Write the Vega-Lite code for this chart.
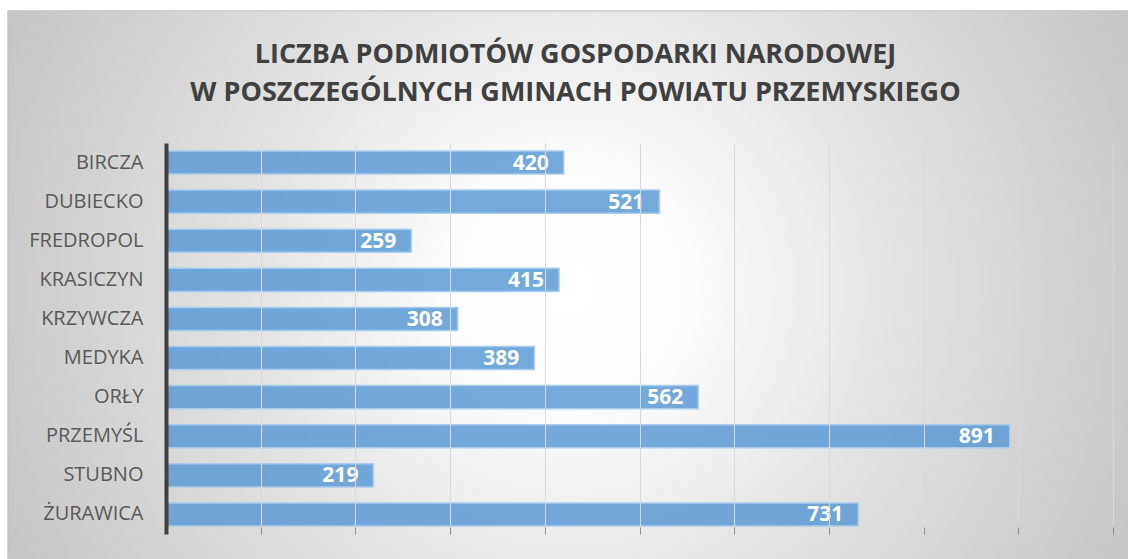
{
  "$schema": "https://vega.github.io/schema/vega-lite/v6.json",
  "width": 947,
  "height": 391,
  "autosize": {"type": "none"},
  "padding": {"left": 166, "top": 143, "right": 15, "bottom": 25},
  "background": "#ffffff",
  "config": {"view": {"stroke": null}, "font": "Open Sans"},
  "title": {
    "text": ["LICZBA PODMIOTÓW GOSPODARKI NARODOWEJ", "W POSZCZEGÓLNYCH GMINACH POWIATU PRZEMYSKIEGO"],
    "font": "Open Sans",
    "fontSize": 27,
    "fontWeight": "bold",
    "color": "#404040",
    "lineHeight": 38,
    "anchor": "middle",
    "frame": "group",
    "dx": -64,
    "offset": -97
  },
  "layer": [
    {
      "data": {"values": [{}]},
      "mark": {
        "type": "rect",
        "color": {
          "gradient": "radial",
          "x1": 0.5, "y1": 0.4965, "r1": 0,
          "x2": 0.5, "y2": 0.4965, "r2": 0.552,
          "stops": [
            {"offset": 0, "color": "#ffffff"},
            {"offset": 0.2, "color": "#fcfcfc"},
            {"offset": 0.5, "color": "#e4e4e4"},
            {"offset": 1, "color": "#c6c6c6"}
          ]
        },
        "stroke": "#bfbfbf",
        "strokeWidth": 1
      },
      "encoding": {
        "x": {
          "datum": -167,
          "type": "quantitative",
          "scale": {"domain": [0, 1000]},
          "axis": {
            "title": null,
            "labels": false,
            "domain": false,
            "ticks": true,
            "tickSize": -7,
            "tickColor": "#8c8c8c",
            "tickWidth": 1,
            "grid": true,
            "gridColor": "#d9d9d9",
            "gridWidth": 1,
            "values": [0, 100, 200, 300, 400, 500, 600, 700, 800, 900, 1000],
            "zindex": 1
          }
        },
        "x2": {"datum": 1020},
        "y": {"datum": -0.1, "type": "quantitative", "scale": {"domain": [0, 1]}, "axis": null},
        "y2": {"datum": 1.338}
      }
    },
    {
      "data": {
        "values": [
          {"gmina": "BIRCZA", "liczba": 420},
          {"gmina": "DUBIECKO", "liczba": 521},
          {"gmina": "FREDROPOL", "liczba": 259},
          {"gmina": "KRASICZYN", "liczba": 415},
          {"gmina": "KRZYWCZA", "liczba": 308},
          {"gmina": "MEDYKA", "liczba": 389},
          {"gmina": "ORŁY", "liczba": 562},
          {"gmina": "PRZEMYŚL", "liczba": 891},
          {"gmina": "STUBNO", "liczba": 219},
          {"gmina": "ŻURAWICA", "liczba": 731}
        ]
      },
      "encoding": {
        "y": {
          "field": "gmina",
          "type": "nominal",
          "sort": null,
          "scale": {"paddingInner": 0.41, "paddingOuter": 0.205},
          "axis": {
            "title": null,
            "domain": true,
            "domainColor": "#404040",
            "domainWidth": 4,
            "ticks": false,
            "labelPadding": 23,
            "labelFont": "Open Sans",
            "labelFontSize": 20,
            "labelColor": "#595959",
            "grid": false,
            "zindex": 1
          }
        },
        "x": {
          "field": "liczba",
          "type": "quantitative",
          "scale": {"domain": [0, 1000]},
          "axis": {
            "title": null,
            "labels": false,
            "domain": false,
            "ticks": true,
            "tickSize": -7,
            "tickColor": "#8c8c8c",
            "tickWidth": 1,
            "grid": true,
            "gridColor": "#d9d9d9",
            "gridWidth": 1,
            "values": [0, 100, 200, 300, 400, 500, 600, 700, 800, 900, 1000],
            "zindex": 1
          }
        }
      },
      "layer": [
        {
          "mark": {
            "type": "bar",
            "fill": "#5b9bd5",
            "fillOpacity": 0.85,
            "stroke": "#a9cbed",
            "strokeWidth": 1.5
          }
        },
        {
          "mark": {
            "type": "text",
            "align": "right",
            "baseline": "middle",
            "dx": -15,
            "dy": 1,
            "color": "#ffffff",
            "font": "Open Sans",
            "fontSize": 21,
            "fontWeight": "bold"
          },
          "encoding": {"text": {"field": "liczba", "type": "quantitative"}}
        }
      ]
    }
  ],
  "resolve": {"scale": {"y": "independent"}}
}
